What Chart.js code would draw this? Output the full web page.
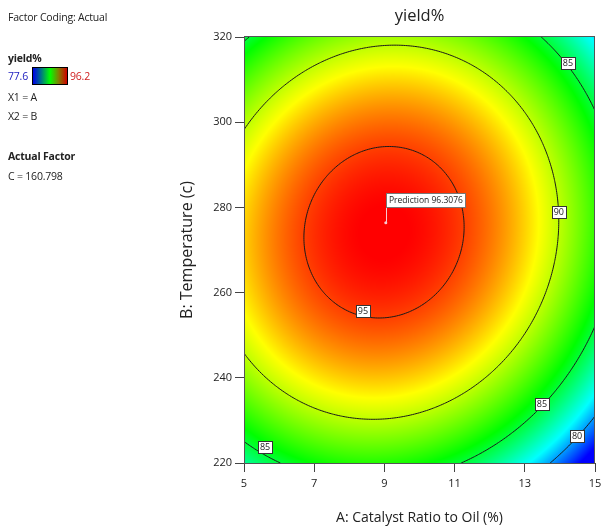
<!DOCTYPE html>
<html><head><meta charset="utf-8">
<script src="https://cdn.jsdelivr.net/npm/chart.js@4.4.1/dist/chart.umd.min.js"></script>
<style>
html,body{margin:0;padding:0;background:#fff;}
#wrap{position:relative;width:601px;height:530px;overflow:hidden;}
#c{position:absolute;left:0;top:0;}
.t{position:absolute;font-family:"Open Sans","Noto Sans",sans-serif;font-size:10.5px;letter-spacing:-0.2px;color:#222;white-space:nowrap;line-height:14px;}
.b{font-weight:bold;}
#bar{position:absolute;left:32px;top:67px;width:34px;height:16px;border:1px solid #000;
background:linear-gradient(to right,#0000e8 0%,#007a80 25%,#00ff00 50%,#808000 75%,#d00000 100%);}
</style></head><body>
<div id="wrap">
<canvas id="c" width="601" height="530"></canvas>
<div class="t" style="left:8px;top:10px">Factor Coding: Actual</div>
<div class="t b" style="left:8px;top:51px">yield%</div>
<div class="t" style="left:8px;top:69px;color:#2020c0">77.6</div>
<div id="bar"></div>
<div class="t" style="left:70px;top:69px;color:#d02020">96.2</div>
<div class="t" style="left:8px;top:90px">X1 = A</div>
<div class="t" style="left:8px;top:109px">X2 = B</div>
<div class="t b" style="left:8px;top:149px">Actual Factor</div>
<div class="t" style="left:8px;top:169px">C = 160.798</div>
</div>
<script>
// ---- data ----
const xTicks = [5, 7, 9, 11, 13, 15];
const yTicks = [220, 240, 260, 280, 300, 320];
const modelTerms = ['Intercept', 'A', 'B', 'AB', 'A^2', 'B^2'];
const modelCoefficients = [-163.25, 3.6276, 1.77464, 0.003575, -0.2563, -0.003295];
const colorRange = [77.6, 96.2];
const contourLevels = [80, 85, 90, 95];
const contourLabelLevels = [95, 90, 85, 85, 85, 80];
const contourLabelA = [8.39, 13.97, 14.23, 13.49, 5.60, 14.49];
const contourLabelB = [255.7, 279.0, 313.8, 233.9, 223.8, 226.4];
const predictionPoint = [9.04, 276.4];
const predictionText = 'Prediction 96.3076';

function yieldAt(a, b) {
  const c = modelCoefficients;
  return c[0] + c[1]*a + c[2]*b + c[3]*a*b + c[4]*a*a + c[5]*b*b;
}
function colorFor(v) {
  let t = (v - colorRange[0]) / (colorRange[1] - colorRange[0]);
  t = Math.max(0, Math.min(1, t));
  const st = [[0,0,0,255],[0.21,0,255,255],[0.45,0,255,0],[0.74,255,255,0],[1,255,0,0]];
  for (let k = 1; k < st.length; k++) {
    if (t <= st[k][0]) {
      const p = st[k-1], q = st[k], f = (t - p[0])/(q[0]-p[0]);
      return [p[1]+(q[1]-p[1])*f, p[2]+(q[2]-p[2])*f, p[3]+(q[3]-p[3])*f];
    }
  }
  return [255,0,0];
}

const surfacePlugin = {
  id: 'surface',
  beforeDatasetsDraw(chart) {
    const ctx = chart.ctx, ca = chart.chartArea;
    const xs = chart.scales.x, ys = chart.scales.y;
    const x0 = Math.round(ca.left), y0 = Math.round(ca.top);
    const w = Math.round(ca.right) - x0, h = Math.round(ca.bottom) - y0;
    const img = ctx.createImageData(w, h);
    for (let j = 0; j < h; j++) {
      const b = ys.getValueForPixel(y0 + j + 0.5);
      for (let i = 0; i < w; i++) {
        const a = xs.getValueForPixel(x0 + i + 0.5);
        const col = colorFor(yieldAt(a, b));
        const o = (j*w + i)*4;
        img.data[o] = col[0]; img.data[o+1] = col[1]; img.data[o+2] = col[2]; img.data[o+3] = 255;
      }
    }
    ctx.putImageData(img, x0, y0);

    // contours (marching squares in data space)
    const N = 200;
    const amin = xs.min, amax = xs.max, bmin = ys.min, bmax = ys.max;
    const grid = [];
    for (let j = 0; j <= N; j++) {
      const row = [];
      const b = bmin + (bmax - bmin) * j / N;
      for (let i = 0; i <= N; i++) row.push(yieldAt(amin + (amax - amin) * i / N, b));
      grid.push(row);
    }
    ctx.save();
    ctx.beginPath();
    ctx.rect(ca.left, ca.top, ca.right - ca.left, ca.bottom - ca.top);
    ctx.clip();
    ctx.strokeStyle = '#1a1a1a';
    ctx.lineWidth = 1;
    const P = (i, j) => [xs.getPixelForValue(amin + (amax - amin) * i / N), ys.getPixelForValue(bmin + (bmax - bmin) * j / N)];
    contourLevels.forEach(L => {
      ctx.beginPath();
      for (let j = 0; j < N; j++) for (let i = 0; i < N; i++) {
        const v = [grid[j][i], grid[j][i+1], grid[j+1][i+1], grid[j+1][i]];
        const c = [[i,j],[i+1,j],[i+1,j+1],[i,j+1]];
        const pts = [];
        for (let e = 0; e < 4; e++) {
          const va = v[e], vb = v[(e+1)%4];
          if ((va < L) !== (vb < L)) {
            const f = (L - va) / (vb - va);
            const ca2 = c[e], cb = c[(e+1)%4];
            pts.push(P(ca2[0] + (cb[0]-ca2[0])*f, ca2[1] + (cb[1]-ca2[1])*f));
          }
        }
        if (pts.length >= 2) { ctx.moveTo(pts[0][0], pts[0][1]); ctx.lineTo(pts[1][0], pts[1][1]); }
        if (pts.length === 4) { ctx.moveTo(pts[2][0], pts[2][1]); ctx.lineTo(pts[3][0], pts[3][1]); }
      }
      ctx.stroke();
    });
    ctx.restore();

    // contour labels
    ctx.save();
    ctx.font = '9px "Open Sans", sans-serif';
    ctx.textAlign = 'center'; ctx.textBaseline = 'middle';
    contourLabelLevels.forEach((lv, k) => {
      const px = xs.getPixelForValue(contourLabelA[k]), py = ys.getPixelForValue(contourLabelB[k]);
      const tw = ctx.measureText(String(lv)).width + 4;
      ctx.fillStyle = '#fff';
      ctx.fillRect(Math.round(px - tw/2) + 0.5, Math.round(py - 6) + 0.5, Math.round(tw), 12);
      ctx.strokeStyle = '#333'; ctx.lineWidth = 1;
      ctx.strokeRect(Math.round(px - tw/2) + 0.5, Math.round(py - 6) + 0.5, Math.round(tw), 12);
      ctx.fillStyle = '#222';
      ctx.fillText(String(lv), px, py + 0.5);
    });
    ctx.restore();

    // frame + title
    ctx.save();
    ctx.strokeStyle = '#555'; ctx.lineWidth = 1;
    ctx.strokeRect(Math.round(ca.left) + 0.5, Math.round(ca.top) - 0.5, Math.round(ca.right - ca.left) - 1, Math.round(ca.bottom - ca.top) + 1);
    ctx.fillStyle = '#222';
    ctx.font = '16.5px "Open Sans", sans-serif';
    ctx.textAlign = 'center'; ctx.textBaseline = 'middle';
    ctx.fillText('yield%', (ca.left + ca.right) / 2, 16);
    ctx.restore();
  },
  afterDatasetsDraw(chart) {
    const ctx = chart.ctx, xs = chart.scales.x, ys = chart.scales.y;
    const px = xs.getPixelForValue(predictionPoint[0]), py = ys.getPixelForValue(predictionPoint[1]);
    ctx.save();
    ctx.strokeStyle = '#f7c8d0'; ctx.lineWidth = 1;
    ctx.beginPath(); ctx.moveTo(Math.round(px) + 0.5, py); ctx.lineTo(Math.round(px) + 0.5, py - 16); ctx.stroke();
    ctx.font = '8.5px "Open Sans", sans-serif';
    const tw = ctx.measureText(predictionText).width + 5;
    const bx = Math.round(px) + 0.5, by = Math.round(py - 30) + 0.5;
    ctx.fillStyle = '#fff'; ctx.fillRect(bx, by, Math.round(tw), 14);
    ctx.strokeStyle = '#777'; ctx.strokeRect(bx, by, Math.round(tw), 14);
    ctx.fillStyle = '#222'; ctx.textBaseline = 'middle'; ctx.textAlign = 'left';
    ctx.fillText(predictionText, bx + 2.5, by + 7.5);
    ctx.restore();
  }
};

new Chart(document.getElementById('c'), {
  type: 'scatter',
  data: { datasets: [{
    data: [{ x: predictionPoint[0], y: predictionPoint[1] }],
    pointRadius: 1.5, pointBackgroundColor: '#f7c8d0', pointBorderWidth: 0
  }] },
  options: {
    responsive: false, animation: false, devicePixelRatio: 1,
    layout: { padding: { left: 176, right: 6, top: 37, bottom: 0 } },
    plugins: { legend: { display: false }, tooltip: { enabled: false }, title: { display: false } },
    scales: {
      x: {
        type: 'linear', min: 5, max: 15,
        afterBuildTicks: s => { s.ticks = xTicks.map(v => ({ value: v })); },
        afterFit: s => { s.height = 67; s.paddingLeft = 0; s.paddingRight = 0; },
        grid: { drawOnChartArea: false, drawTicks: true, tickLength: 9, color: '#444' },
        border: { display: true, color: '#444' },
        ticks: { color: '#222', font: { family: '"Open Sans", sans-serif', size: 11 }, padding: 5, maxRotation: 0 },
        title: { display: true, text: 'A: Catalyst Ratio to Oil (%)', color: '#222', font: { family: '"Open Sans", sans-serif', size: 14 }, padding: { top: 4, bottom: 4 } }
      },
      y: {
        type: 'linear', min: 220, max: 320,
        afterBuildTicks: s => { s.ticks = yTicks.map(v => ({ value: v })); },
        afterFit: s => { s.width = 68; s.paddingTop = 0; s.paddingBottom = 0; },
        grid: { drawOnChartArea: false, drawTicks: true, tickLength: 9, color: '#444' },
        border: { display: true, color: '#444' },
        ticks: { color: '#222', font: { family: '"Open Sans", sans-serif', size: 11 }, padding: 3 },
        title: { display: true, text: 'B: Temperature (c)', color: '#222', font: { family: '"Open Sans", sans-serif', size: 16 }, padding: { top: 2, bottom: 4 } }
      }
    }
  },
  plugins: [surfacePlugin]
});
</script>
</body></html>
